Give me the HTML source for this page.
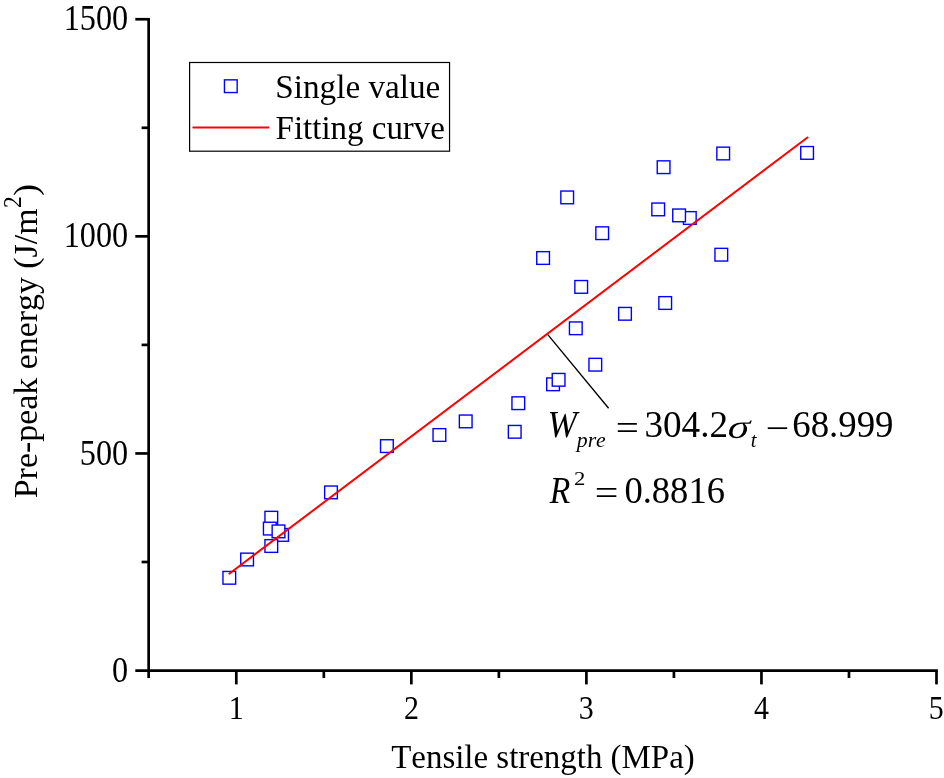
<!DOCTYPE html>
<html><head><meta charset="utf-8"><title>Pre-peak energy vs tensile strength</title>
<style>
html,body{margin:0;padding:0;background:#fff;}
body{width:944px;height:778px;overflow:hidden;}
svg{display:block;will-change:transform;}
text{font-family:"Liberation Serif",serif;fill:#000;font-kerning:none;}
.it{font-style:italic;}
</style></head><body>
<svg width="944" height="778" viewBox="0 0 944 778">
<rect x="0" y="0" width="944" height="778" fill="#fff"/>

<g stroke="#000" stroke-width="2.7" fill="none" stroke-linecap="butt">
<line x1="148.65" y1="17.90" x2="148.65" y2="678.0"/>
<line x1="135.3" y1="670.55" x2="937.85" y2="670.55"/>
<line x1="135.3" y1="453.45" x2="148.65" y2="453.45"/>
<line x1="135.3" y1="236.35" x2="148.65" y2="236.35"/>
<line x1="135.3" y1="19.25" x2="148.65" y2="19.25"/>
<line x1="141.6" y1="562.00" x2="148.65" y2="562.00"/>
<line x1="141.6" y1="344.90" x2="148.65" y2="344.90"/>
<line x1="141.6" y1="127.80" x2="148.65" y2="127.80"/>
<line x1="236.30" y1="670.55" x2="236.30" y2="684.4"/>
<line x1="411.35" y1="670.55" x2="411.35" y2="684.4"/>
<line x1="586.40" y1="670.55" x2="586.40" y2="684.4"/>
<line x1="761.45" y1="670.55" x2="761.45" y2="684.4"/>
<line x1="936.50" y1="670.55" x2="936.50" y2="684.4"/>
<line x1="323.83" y1="670.55" x2="323.83" y2="678.0"/>
<line x1="498.88" y1="670.55" x2="498.88" y2="678.0"/>
<line x1="673.92" y1="670.55" x2="673.92" y2="678.0"/>
<line x1="848.98" y1="670.55" x2="848.98" y2="678.0"/>
</g>
<text transform="translate(112.00,681.65) scale(0.9100,1)" font-size="35.40">0</text>
<text transform="translate(79.79,464.55) scale(0.9100,1)" font-size="35.40">500</text>
<text transform="translate(63.68,247.45) scale(0.9100,1)" font-size="35.40">1000</text>
<text transform="translate(63.68,30.35) scale(0.9100,1)" font-size="35.40">1500</text>
<text transform="translate(228.81,719.40) scale(0.8700,1)" font-size="34.40">1</text>
<text transform="translate(404.02,719.40) scale(0.8700,1)" font-size="34.40">2</text>
<text transform="translate(578.81,719.40) scale(0.8700,1)" font-size="34.40">3</text>
<text transform="translate(753.89,719.40) scale(0.8700,1)" font-size="34.40">4</text>
<text transform="translate(928.76,719.40) scale(0.8700,1)" font-size="34.40">5</text>
<text transform="translate(391.22,767.70) scale(0.9858,1)" font-size="33.40">Tensile strength (MPa)</text>
<g transform="translate(37.1,497.2) rotate(-90)">
<text transform="translate(-1.02,0.00) scale(0.9967,1)" font-size="34.00">Pre-peak energy (J/m</text>
<text transform="translate(289.14,-16.30) scale(0.9400,1)" font-size="25.00">2</text>
<text transform="translate(301.31,0.00) scale(1.0737,1)" font-size="34.00">)</text>
</g>
<g fill="#fff" stroke="#0000ff" stroke-width="1.4">
<rect x="264.95" y="511.35" width="12.7" height="12.7"/>
<rect x="263.45" y="522.25" width="12.7" height="12.7"/>
<rect x="275.75" y="528.55" width="12.7" height="12.7"/>
<rect x="272.15" y="525.05" width="12.7" height="12.7"/>
<rect x="264.95" y="539.65" width="12.7" height="12.7"/>
<rect x="222.95" y="571.45" width="12.7" height="12.7"/>
<rect x="240.75" y="553.15" width="12.7" height="12.7"/>
<rect x="324.65" y="486.05" width="12.7" height="12.7"/>
<rect x="380.55" y="439.75" width="12.7" height="12.7"/>
<rect x="433.05" y="428.65" width="12.7" height="12.7"/>
<rect x="459.35" y="415.05" width="12.7" height="12.7"/>
<rect x="511.95" y="396.85" width="12.7" height="12.7"/>
<rect x="508.35" y="425.45" width="12.7" height="12.7"/>
<rect x="546.70" y="377.95" width="12.7" height="12.7"/>
<rect x="552.25" y="373.45" width="12.7" height="12.7"/>
<rect x="588.95" y="358.35" width="12.7" height="12.7"/>
<rect x="569.45" y="321.95" width="12.7" height="12.7"/>
<rect x="574.85" y="280.55" width="12.7" height="12.7"/>
<rect x="618.65" y="307.45" width="12.7" height="12.7"/>
<rect x="658.85" y="296.65" width="12.7" height="12.7"/>
<rect x="536.75" y="251.65" width="12.7" height="12.7"/>
<rect x="560.85" y="191.05" width="12.7" height="12.7"/>
<rect x="595.85" y="226.85" width="12.7" height="12.7"/>
<rect x="657.25" y="160.85" width="12.7" height="12.7"/>
<rect x="651.85" y="203.05" width="12.7" height="12.7"/>
<rect x="683.45" y="211.65" width="12.7" height="12.7"/>
<rect x="672.75" y="209.05" width="12.7" height="12.7"/>
<rect x="716.85" y="147.15" width="12.7" height="12.7"/>
<rect x="800.75" y="146.55" width="12.7" height="12.7"/>
<rect x="714.95" y="248.35" width="12.7" height="12.7"/>
</g>
<line x1="229.30" y1="573.71" x2="807.49" y2="137.44" stroke="#ff0000" stroke-width="2.0" stroke-linecap="round"/>
<line x1="547.8" y1="334.6" x2="608.6" y2="408.3" stroke="#000" stroke-width="1.35"/>
<rect x="189.6" y="62.5" width="259.95" height="88.7" fill="#fff" stroke="#000" stroke-width="1.2"/>
<rect x="224.45" y="79.85" width="12.7" height="12.7" fill="#fff" stroke="#0000ff" stroke-width="1.4"/>
<line x1="193.3" y1="127.5" x2="268.4" y2="127.5" stroke="#ff0000" stroke-width="2.0" stroke-linecap="round"/>
<text transform="translate(275.26,98.20) scale(0.9686,1)" font-size="34.30">Single value</text>
<text transform="translate(275.61,138.60) scale(0.9612,1)" font-size="34.30">Fitting curve</text>
<text class="it" transform="translate(547.51,437.00) scale(0.9479,1)" font-size="37.30">W</text>
<text class="it" transform="translate(576.75,446.60) scale(1.0722,1)" font-size="20.30">pre</text>
<text transform="translate(615.85,439.60) scale(1.1538,1)" font-size="35.60">=</text>
<text transform="translate(644.43,437.30) scale(0.9740,1)" font-size="38.20">304.2</text>
<text transform="translate(725.75,438.1) skewX(-14) scale(1.2187,1)" font-size="34.0">σ</text>
<text class="it" transform="translate(750.67,446.60) scale(1.0145,1)" font-size="20.30">t</text>
<text transform="translate(765.61,439.50) scale(1.1719,1)" font-size="35.60">−</text>
<text transform="translate(792.24,437.30) scale(0.9637,1)" font-size="38.20">68.999</text>
<text class="it" transform="translate(549.67,502.80) scale(0.9050,1)" font-size="37.20">R</text>
<text transform="translate(573.98,485.40) scale(1.1667,1)" font-size="19.50">2</text>
<text transform="translate(594.70,505.20) scale(1.1780,1)" font-size="35.60">=</text>
<text transform="translate(624.43,503.10) scale(0.9573,1)" font-size="38.20">0.8816</text>
</svg></body></html>
